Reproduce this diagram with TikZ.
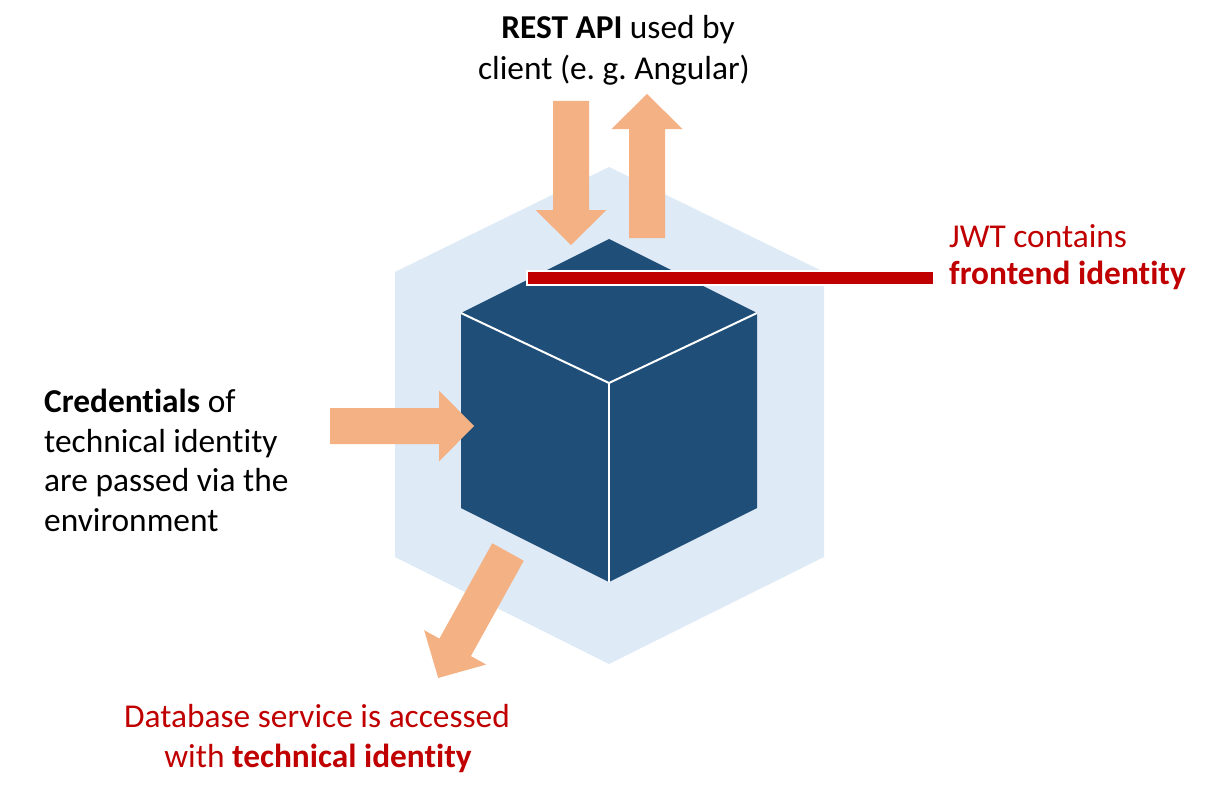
\documentclass[tikz,border=0pt]{standalone}
\usepackage{fontspec}
\setmainfont{Carlito}[Ligatures={NoCommon}]
\frenchspacing
\definecolor{hexblue}{HTML}{DEEAF6}
\definecolor{cubeblue}{HTML}{1F4E79}
\definecolor{arrowor}{HTML}{F4B183}
\definecolor{darkred}{HTML}{C00000}
\tikzset{
  txt/.style={inner sep=0pt, font=\fontsize{33.5}{40}\selectfont},
  redtxt/.style={txt, text=darkred},
  blockarrow/.pic={\fill[arrowor] (0,-18) -- (109,-18) -- (109,-35.5) -- (144,0) -- (109,35.5) -- (109,18) -- (0,18) -- cycle;},
  edge/.style={draw=white, line width=2pt},
}
\begin{document}
\begin{tikzpicture}[x=1bp, y=-1bp]
\path[use as bounding box] (0,0) rectangle (1232,798);
% hexagon background
\fill[hexblue] (609,167) -- (824,272) -- (824,557) -- (609,664) -- (395,557) -- (395,272) -- cycle;
% cube
\coordinate (ct) at (609,239);
\coordinate (cl) at (461,313);
\coordinate (cr) at (757,313);
\coordinate (cc) at (609,383);
\coordinate (clb) at (461,508);
\coordinate (crb) at (757,508);
\coordinate (cb) at (609,582);
\fill[cubeblue] (ct) -- (cr) -- (crb) -- (cb) -- (clb) -- (cl) -- cycle;
\draw[edge] (cl) -- (cc) -- (cr);
\draw[edge] (cc) -- (cb);
% block arrows
\pic[rotate=-90] at (571,101) {blockarrow};
\pic[rotate=90] at (647,238) {blockarrow};
\pic at (330,426) {blockarrow};
\pic[rotate=-119] at (508,552) {blockarrow};
% red bar
\fill[darkred, draw=white, line width=2.5pt] (527,271) rectangle (934,285);
% texts
\node[txt, anchor=base] (rest1) at (618,39) {\textbf{REST API} used by};
\node[txt, anchor=base] (rest2) at (614,80) {client (e. g. Angular)};
\node[txt, anchor=base west] (cred1) at (44,412) {\textbf{Credentials} of};
\node[txt, anchor=base west] (cred2) at (44,452) {technical identity};
\node[txt, anchor=base west] (cred3) at (44,491) {are passed via the};
\node[txt, anchor=base west] (cred4) at (44,531) {environment};
\node[redtxt, anchor=base west] (jwt1) at (949,247) {JWT contains};
\node[redtxt, anchor=base west] (jwt2) at (949,284) {\textbf{frontend identity}};
\node[redtxt, anchor=base] (db1) at (317,727) {Database service is accessed};
\node[redtxt, anchor=base] (db2) at (318,767) {with \textbf{technical identity}};
\end{tikzpicture}
\end{document}
